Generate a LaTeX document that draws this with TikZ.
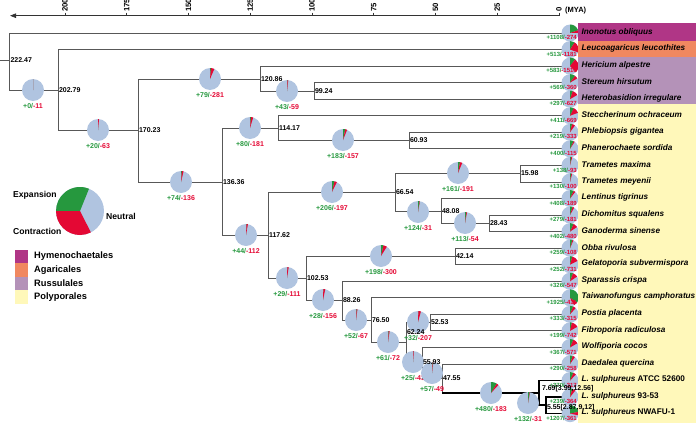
\documentclass[tikz,border=0pt]{standalone}
\usepackage{fontspec}
\setmainfont{Liberation Sans}
\usetikzlibrary{arrows.meta}
\definecolor{pieblue}{RGB}{176,196,224}
\definecolor{expgreen}{RGB}{38,152,62}
\definecolor{conred}{RGB}{228,8,52}
\definecolor{hymcol}{RGB}{176,54,134}
\definecolor{agacol}{RGB}{240,136,96}
\definecolor{ruscol}{RGB}{180,146,184}
\definecolor{polcol}{RGB}{255,248,186}
\definecolor{branchgray}{RGB}{88,88,88}

\begin{document}
\begin{tikzpicture}[
    x=1pt, y=-1pt,
    branch/.style   = {draw=branchgray, line width=0.9pt},
    lsbranch/.style = {draw=black, line width=1.5pt},
    axisline/.style = {draw=black!80, line width=0.8pt},
    age/.style      = {font=\bfseries\fontsize{7}{8}\selectfont, anchor=west, inner sep=0.8pt},
    cnt/.style      = {font=\bfseries\fontsize{7}{8}\selectfont, inner sep=0pt},
    tipcnt/.style   = {font=\bfseries\fontsize{6}{7}\selectfont, inner sep=0pt, anchor=east},
    sp/.style       = {font=\bfseries\itshape\fontsize{8.2}{10}\selectfont, anchor=west, inner sep=0pt},
    leg/.style      = {font=\bfseries\fontsize{8.6}{10}\selectfont, anchor=west, inner sep=0pt},
    ticklbl/.style  = {font=\bfseries\fontsize{7.7}{8}\selectfont, rotate=90, anchor=west, inner sep=0.5pt},
]
\useasboundingbox (0,0) rectangle (696,423);

% ---- time axis ---------------------------------------------------------------
\coordinate (axl) at (10,15.7);
\coordinate (axr) at (559,15.7);
\draw[axisline, {Triangle[length=6pt,width=4.5pt]}-] (axl) -- (axr);
\foreach \t in {0,25,...,200}{
  \draw[axisline] (559-2.47*\t,12.5) -- (559-2.47*\t,15.7);
  \node[ticklbl] (tk\t) at (559-2.47*\t,12.3) {\t};
}
\node[font=\bfseries\fontsize{7.5}{8}\selectfont, anchor=west, inner sep=0pt] (mya) at (565,11) {(MYA)};

% ---- tips ------------------------------------------------------------------
\foreach \tag/\row in {iobl/0, lleu/1, halp/2, shir/3, hirr/4, soch/5, pgig/6, psor/7,
    tmax/8, tmey/9, ltig/10, dsqu/11, gsin/12, oriv/13, gsub/14, scri/15, tcam/16,
    ppla/17, frad/18, wcoc/19, dque/20, lsat/21, ls93/22, lsnw/23}
  \coordinate (\tag) at (570,{33+16.55*\row});

% ---- internal nodes (x = age) ------------------------------------------------
\coordinate (root) at (0,60);
\coordinate (n222) at (9.5,60);
\coordinate (n202) at (58,90);
\coordinate (n170) at (138,130);
\coordinate (n120) at (260,79);
\coordinate (n99)  at (314,91);
\coordinate (n136) at (222,182);
\coordinate (n114) at (278,128);
\coordinate (n60)  at (409,140);
\coordinate (n117) at (268,235);
\coordinate (n66)  at (395,192);
\coordinate (n15)  at (520,173);
\coordinate (n48)  at (441,211);
\coordinate (n28)  at (489,223);
\coordinate (n102) at (306,278);
\coordinate (n42)  at (455,256);
\coordinate (n88)  at (342,300);
\coordinate (n76)  at (371,320);
\coordinate (n52)  at (430,322);
\coordinate (n62)  at (406,342);
\coordinate (n55)  at (422,362);
\coordinate (n47)  at (442,378);
\coordinate (n7)   at (539,393);
\coordinate (n5)   at (546,405);

% ---- branches ----------------------------------------------------------------
\draw[branch] (root) -- (n222);
\draw[branch] (n222) |- (iobl);  \draw[branch] (n222) |- (n202);
\draw[branch] (n202) |- (lleu);  \draw[branch] (n202) |- (n170);
\draw[branch] (n170) |- (n120);  \draw[branch] (n170) |- (n136);
\draw[branch] (n120) |- (halp);  \draw[branch] (n120) |- (n99);
\draw[branch] (n99) |- (shir);   \draw[branch] (n99) |- (hirr);
\draw[branch] (n136) |- (n114);  \draw[branch] (n136) |- (n117);
\draw[branch] (n114) |- (soch);  \draw[branch] (n114) |- (n60);
\draw[branch] (n60) |- (pgig);   \draw[branch] (n60) |- (psor);
\draw[branch] (n117) |- (n66);   \draw[branch] (n117) |- (n102);
\draw[branch] (n66) |- (n15);    \draw[branch] (n66) |- (n48);
\draw[branch] (n15) |- (tmax);   \draw[branch] (n15) |- (tmey);
\draw[branch] (n48) |- (ltig);   \draw[branch] (n48) |- (n28);
\draw[branch] (n28) |- (dsqu);   \draw[branch] (n28) |- (gsin);
\draw[branch] (n102) |- (n42);   \draw[branch] (n102) |- (n88);
\draw[branch] (n42) |- (oriv);   \draw[branch] (n42) |- (gsub);
\draw[branch] (n88) |- (scri);   \draw[branch] (n88) |- (n76);
\draw[branch] (n76) |- (tcam);   \draw[branch] (n76) |- (n62);
\draw[branch] (n62) |- (n52);    \draw[branch] (n62) |- (n55);
\draw[branch] (n52) |- (ppla);   \draw[branch] (n52) |- (frad);
\draw[branch] (n55) |- (wcoc);   \draw[branch] (n55) |- (n47);
\draw[branch] (n47) |- (dque);   \draw[branch] (n47) -- (n47 |- n7);
\draw[lsbranch] (n47 |- n7) -- (n7);
\draw[lsbranch] (n7) |- (lsat);  \draw[lsbranch] (n7) |- (n5);
\draw[lsbranch] (n5) |- (ls93);  \draw[lsbranch] (n5) |- (lsnw);

% ---- gene family pies on internal branches -----------------------------------
\foreach \px/\py/\g/\l [count=\k] in {33/90/0/11, 98/130/20/63, 210/79/79/281, 287/91/43/59,
    181/182/74/136, 250/128/80/181, 343/140/183/157, 246/235/44/112, 332/192/206/197,
    458/173/161/191, 418/212/124/31, 465/223/113/54, 287/278/29/111, 381/256/198/300,
    323/300/28/156, 356/320/52/67, 388/342/61/72, 418/322/32/207, 413/362/25/43,
    432/373/57/49, 491/393/480/183, 528/403/132/31}{
  \pgfmathsetmacro{\ga}{-90+\g/15.5}
  \pgfmathsetmacro{\la}{\ga+\l/15.5}
  \fill[pieblue] (\px,\py) circle[radius=11];
  \fill[expgreen] (\px,\py) -- ++(-90:11) arc[start angle=-90, end angle=\ga, radius=11] -- cycle;
  \fill[conred] (\px,\py) -- ++(\ga:11) arc[start angle=\ga, end angle=\la, radius=11] -- cycle;
  \node[cnt] (pc\k) at (\px,\py+16) {\textcolor{expgreen}{+\g/}\textcolor{conred}{-\l}};
}

% ---- tip pies ----------------------------------------------------------------
\foreach \tag/\g/\l in {iobl/1108/274, lleu/513/1181, halp/583/1516, shir/569/360,
    hirr/297/627, soch/411/669, pgig/219/333, psor/400/115, tmax/138/93, tmey/130/100,
    ltig/408/189, dsqu/279/181, gsin/402/480, oriv/259/108, gsub/252/731, scri/326/547,
    tcam/1925/411, ppla/333/315, frad/199/742, wcoc/367/571, dque/290/258,
    lsat/370/317, ls93/239/364, lsnw/1207/361}{
  \pgfmathsetmacro{\ga}{-90+\g/15.5}
  \pgfmathsetmacro{\la}{\ga+\l/15.5}
  \fill[pieblue] (\tag) circle[radius=8.5];
  \fill[expgreen] (\tag) -- ++(-90:8.5) arc[start angle=-90, end angle=\ga, radius=8.5] -- cycle;
  \fill[conred] (\tag) -- ++(\ga:8.5) arc[start angle=\ga, end angle=\la, radius=8.5] -- cycle;
  \node[tipcnt] (tc-\tag) at ([xshift=7pt,yshift=-4.5pt]\tag) {\textcolor{expgreen}{+\g/}\textcolor{conred}{-\l}};
}

% ---- order bands and species -------------------------------------------------
\fill[hymcol] (578,23) rectangle (696,40.7);
\fill[agacol] (578,40.7) rectangle (696,57.3);
\fill[ruscol] (578,57.3) rectangle (696,104);
\fill[polcol] (578,104) rectangle (696,423);
\foreach \tag/\txt in {iobl/Inonotus obliquus, lleu/Leucoagaricus leucothites,
    halp/Hericium alpestre, shir/Stereum hirsutum, hirr/Heterobasidion irregulare,
    soch/Steccherinum ochraceum, pgig/Phlebiopsis gigantea, psor/Phanerochaete sordida,
    tmax/Trametes maxima, tmey/Trametes meyenii, ltig/Lentinus tigrinus,
    dsqu/Dichomitus squalens, gsin/Ganoderma sinense, oriv/Obba rivulosa,
    gsub/Gelatoporia subvermispora, scri/Sparassis crispa, tcam/Taiwanofungus camphoratus,
    ppla/Postia placenta, frad/Fibroporia radiculosa, wcoc/Wolfiporia cocos,
    dque/Daedalea quercina, lsat/{L. sulphureus \upshape ATCC 52600},
    ls93/{L. sulphureus \upshape 93-53}, lsnw/{L. sulphureus \upshape NWAFU-1}}
  \node[sp] (sp-\tag) at ([xshift=11.5pt,yshift=1pt]\tag) {\txt};

% ---- divergence times ----------------------------------------------------------
\node[age] (a222) at (n222) {222.47};
\node[age] (a202) at (n202) {202.79};
\node[age] (a170) at (n170) {170.23};
\node[age] (a120) at (n120) {120.86};
\node[age] (a99)  at (n99)  {99.24};
\node[age] (a136) at (n136) {136.36};
\node[age] (a114) at (n114) {114.17};
\node[age] (a60)  at (n60)  {60.93};
\node[age] (a117) at (n117) {117.62};
\node[age] (a66)  at (n66)  {66.54};
\node[age] (a15)  at (n15)  {15.98};
\node[age] (a48)  at (n48)  {48.08};
\node[age] (a28)  at (n28)  {28.43};
\node[age] (a102) at (n102) {102.53};
\node[age] (a42)  at (n42)  {42.14};
\node[age] (a88)  at (n88)  {88.26};
\node[age] (a76)  at (n76)  {76.50};
\node[age] (a52)  at (n52)  {52.53};
\node[age] (a62)  at (406,332) {62.24};
\node[age] (a55)  at (n55)  {55.93};
\node[age] (a47)  at (n47)  {47.55};
\node[age] (a7)   at (541,389) {7.69[3.99,12.56]};
\node[age] (a5)   at (546,408) {5.55[2.87,9.12]};

% ---- legend ----------------------------------------------------------------------
\coordinate (lp) at (80,211);
\fill[pieblue] (lp) circle[radius=24];
\fill[expgreen] (lp) -- ++(-68:24) arc[start angle=-68, end angle=-180, radius=24] -- cycle;
\fill[conred] (lp) -- ++(-180:24) arc[start angle=-180, end angle=-297, radius=24] -- cycle;
\node[leg] (lexp) at (13,195) {Expansion};
\node[leg] (lneu) at (106,216) {Neutral};
\node[leg] (lcon) at (13,231) {Contraction};
\foreach \c/\txt [count=\k] in {hymcol/Hymenochaetales, agacol/Agaricales,
    ruscol/Russulales, polcol/Polyporales}{
  \fill[\c] (15,{249.5+13.5*(\k-1)}) rectangle (28,{263+13.5*(\k-1)});
  \node[leg, font=\bfseries\fontsize{9.3}{10}\selectfont] (lo\k) at (34,{256.5+13.5*(\k-1)}) {\txt};
}
\end{tikzpicture}
\end{document}
